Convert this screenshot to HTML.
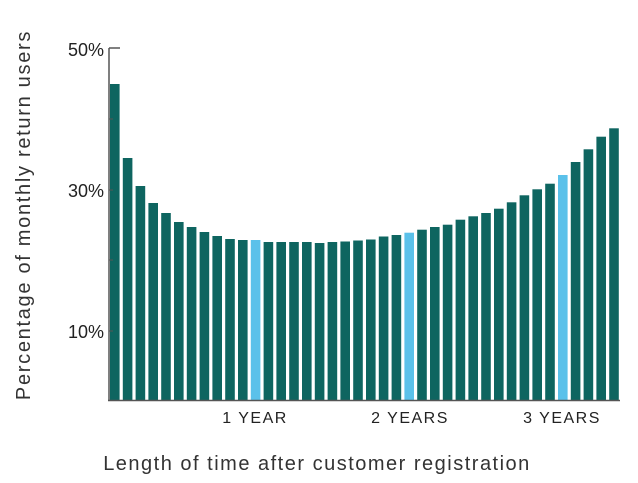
<!DOCTYPE html><html><head><style>body{margin:0;background:#fff}svg{display:block}</style></head><body>
<svg width="638" height="483" xmlns="http://www.w3.org/2000/svg" font-family="Liberation Sans, sans-serif">
<rect width="638" height="483" fill="#fff"/>
<g fill="#0e6560">
<rect x="110" y="84" width="9.6" height="316"/>
<rect x="122.8" y="158" width="9.6" height="242"/>
<rect x="135.6" y="186" width="9.6" height="214"/>
<rect x="148.4" y="203" width="9.6" height="197"/>
<rect x="161.2" y="213" width="9.6" height="187"/>
<rect x="174" y="222" width="9.6" height="178"/>
<rect x="186.8" y="227" width="9.6" height="173"/>
<rect x="199.6" y="232" width="9.6" height="168"/>
<rect x="212.4" y="236" width="9.6" height="164"/>
<rect x="225.2" y="239" width="9.6" height="161"/>
<rect x="238" y="240" width="9.6" height="160"/>
<rect x="250.8" y="240" width="9.6" height="160" fill="#5bc1ea"/>
<rect x="263.6" y="242" width="9.6" height="158"/>
<rect x="276.4" y="242" width="9.6" height="158"/>
<rect x="289.2" y="242" width="9.6" height="158"/>
<rect x="302" y="242" width="9.6" height="158"/>
<rect x="314.8" y="243" width="9.6" height="157"/>
<rect x="327.6" y="242" width="9.6" height="158"/>
<rect x="340.4" y="241.5" width="9.6" height="158.5"/>
<rect x="353.2" y="240.5" width="9.6" height="159.5"/>
<rect x="366" y="239.5" width="9.6" height="160.5"/>
<rect x="378.8" y="236.5" width="9.6" height="163.5"/>
<rect x="391.6" y="235" width="9.6" height="165"/>
<rect x="404.4" y="232.7" width="9.6" height="167.3" fill="#5bc1ea"/>
<rect x="417.2" y="229.7" width="9.6" height="170.3"/>
<rect x="430" y="227" width="9.6" height="173"/>
<rect x="442.8" y="224.7" width="9.6" height="175.3"/>
<rect x="455.6" y="219.7" width="9.6" height="180.3"/>
<rect x="468.4" y="216.3" width="9.6" height="183.7"/>
<rect x="481.2" y="213" width="9.6" height="187"/>
<rect x="494" y="208.7" width="9.6" height="191.3"/>
<rect x="506.8" y="202.3" width="9.6" height="197.7"/>
<rect x="519.6" y="195.3" width="9.6" height="204.7"/>
<rect x="532.4" y="189.3" width="9.6" height="210.7"/>
<rect x="545.2" y="183.7" width="9.6" height="216.3"/>
<rect x="558" y="175" width="9.6" height="225" fill="#5bc1ea"/>
<rect x="570.8" y="162" width="9.6" height="238"/>
<rect x="583.6" y="149.3" width="9.6" height="250.7"/>
<rect x="596.4" y="136.7" width="9.6" height="263.3"/>
<rect x="609.2" y="128.3" width="9.6" height="271.7"/>
</g>
<line x1="109" y1="48" x2="109" y2="401" stroke="#555" stroke-width="1.5"/>
<line x1="109" y1="48" x2="120" y2="48" stroke="#555" stroke-width="1.5"/>
<line x1="109" y1="119" x2="113" y2="119" stroke="#555"/>
<line x1="109" y1="190" x2="113" y2="190" stroke="#555"/>
<line x1="109" y1="260" x2="113" y2="260" stroke="#555"/>
<line x1="109" y1="331" x2="113" y2="331" stroke="#555"/>
<line x1="108" y1="400.5" x2="620" y2="400.5" stroke="#555" stroke-width="1.5"/>
<g font-size="18" fill="#222" text-anchor="end">
<text x="104" y="56">50%</text><text x="104" y="197">30%</text><text x="104" y="338">10%</text></g>
<g font-size="16" fill="#222" text-anchor="middle" letter-spacing="1.5">
<text x="255" y="423">1 YEAR</text><text x="410" y="423">2 YEARS</text><text x="562" y="423">3 YEARS</text></g>
<text x="317" y="470" font-size="20" fill="#333" text-anchor="middle" letter-spacing="1.5">Length of time after customer registration</text>
<text transform="translate(30,215) rotate(-90)" font-size="20" fill="#333" text-anchor="middle" letter-spacing="1.7">Percentage of monthly return users</text>
</svg></body></html>
